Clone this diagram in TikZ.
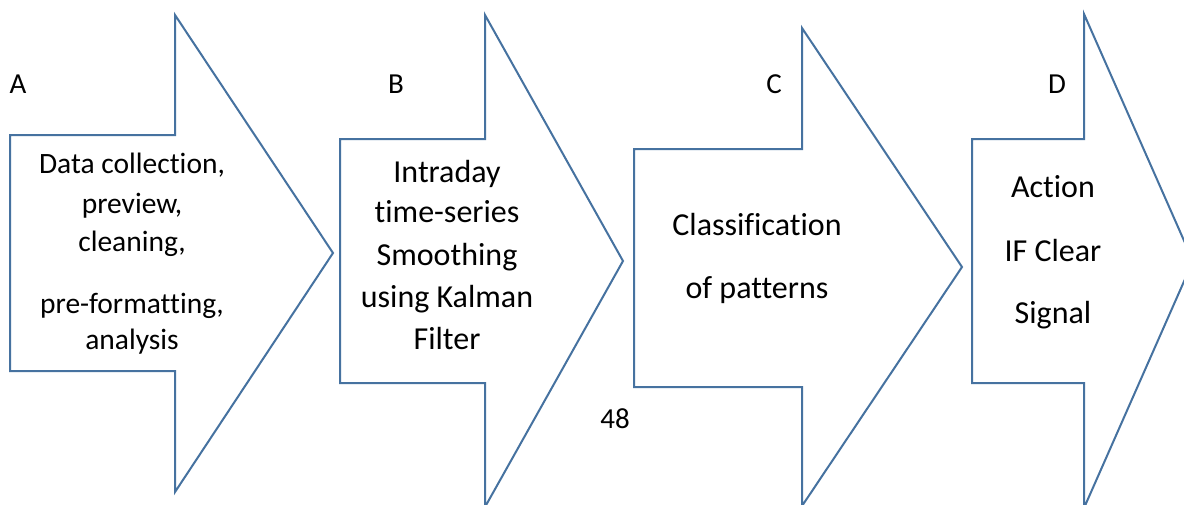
\documentclass[tikz,border=0pt]{standalone}
\usepackage{fontspec}
\setmainfont[RawFeature={-liga}]{Carlito}
\definecolor{arrowblue}{HTML}{4672A0}
\begin{document}
\begin{tikzpicture}[x=1pt,y=-1pt,
  blockarrow/.style={draw=arrowblue,line width=2pt,fill=white,line join=miter},
  txt/.style={anchor=base,inner sep=0pt,font=\fontsize{29}{34}\selectfont,text=black},
  big/.style={txt,font=\fontsize{32}{38}\selectfont}]
\useasboundingbox (0,0) rectangle (1184,504);
\clip (0,0) rectangle (1184,504);
\fill[white] (0,0) rectangle (1184,504);
% arrows
\draw[blockarrow] (10,135) -- (175,135) -- (175,15) -- (333,253) -- (175,492) -- (175,371) -- (10,371) -- cycle;
\draw[blockarrow] (340,139) -- (485,139) -- (485,15) -- (623,261) -- (485,507) -- (485,383) -- (340,383) -- cycle;
\draw[blockarrow] (634,149) -- (802,149) -- (802,28) -- (962,267) -- (802,506) -- (802,387) -- (634,387) -- cycle;
\draw[blockarrow] (972,139) -- (1084,139) -- (1084,14) -- (1193,261) -- (1084,508) -- (1084,383) -- (972,383) -- cycle;
% step labels
\node[txt] (la) at (18,93) {A};
\node[txt] (lb) at (396,93) {B};
\node[txt] (lc) at (774,93) {C};
\node[txt] (ld) at (1057,93) {D};
% A text
\node[txt,font=\fontsize{29.5}{34}\selectfont] (a1) at (132,173) {Data collection,};
\node[txt,font=\fontsize{29.5}{34}\selectfont] (a2) at (132,213) {preview,};
\node[txt,font=\fontsize{29.5}{34}\selectfont] (a3) at (132,251) {cleaning,};
\node[txt,font=\fontsize{29.5}{34}\selectfont] (a4) at (132,313) {pre-formatting,};
\node[txt,font=\fontsize{29.5}{34}\selectfont] (a5) at (132,349) {analysis};
% B text
\node[big] (b1) at (447,182) {Intraday};
\node[big] (b2) at (447,222) {time-series};
\node[big] (b3) at (447,265) {Smoothing};
\node[big] (b4) at (447,307) {using Kalman};
\node[big] (b5) at (447,349) {Filter};
% C text
\node[big] (c1) at (757,235) {Classification};
\node[big] (c2) at (757,298) {of patterns};
% D text
\node[big] (d1) at (1053,197) {Action};
\node[big] (d2) at (1053,261) {IF Clear};
\node[big] (d3) at (1053,323) {Signal};
% page number
\node[txt] (pg) at (615,428) {48};
\end{tikzpicture}
\end{document}
